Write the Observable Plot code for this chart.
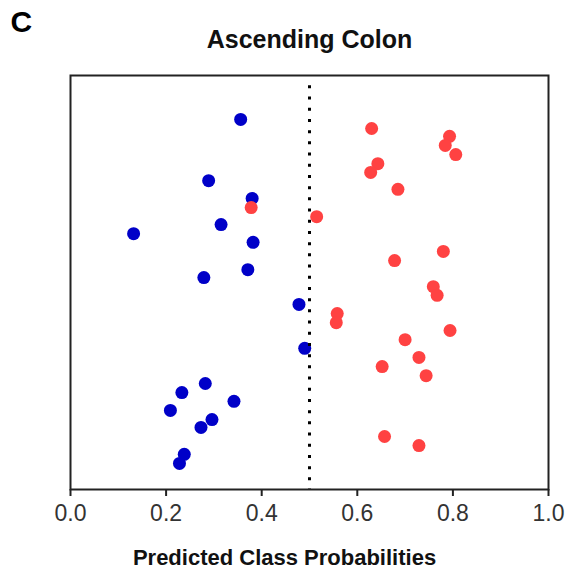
<!DOCTYPE html>
<html>
<head>
<meta charset="utf-8">
<script src="https://cdn.jsdelivr.net/npm/d3@7"></script>
<script src="https://cdn.jsdelivr.net/npm/@observablehq/plot@0.6"></script>
<style>
  html, body { margin: 0; padding: 0; background: #fff; }
  #chart { width: 568px; height: 573px; }
</style>
</head>
<body>
<div id="chart"></div>
<script>
// Predicted class probabilities (x) and vertical jitter position (0–100) per sample
const blueProb = [0.356, 0.289, 0.380, 0.315, 0.132, 0.382, 0.371, 0.279, 0.478, 0.490, 0.282, 0.233, 0.342, 0.209, 0.296, 0.273, 0.238, 0.228];
const blueRow  = [89.4, 74.6, 70.3, 64.0, 61.8, 59.7, 53.1, 51.2, 44.7, 34.1, 25.6, 23.4, 21.3, 19.1, 16.9, 15.0, 8.5, 6.3];
const redProb  = [0.378, 0.515, 0.630, 0.793, 0.784, 0.806, 0.643, 0.628, 0.685, 0.780, 0.678, 0.759, 0.767, 0.558, 0.556, 0.794, 0.700, 0.729, 0.652, 0.744, 0.657, 0.729];
const redRow   = [68.1, 65.9, 87.2, 85.3, 83.1, 80.9, 78.7, 76.6, 72.5, 57.5, 55.3, 49.0, 46.9, 42.5, 40.3, 38.4, 36.2, 31.9, 29.7, 27.5, 12.8, 10.6];
const xTicks = [0, 0.2, 0.4, 0.6, 0.8, 1.0];
const threshold = [0.5];
const panelLabel = "C";
const titleText = "Ascending Colon";
const xLabel = "Predicted Class Probabilities";

const blue = blueProb.map((p, i) => ({p, row: blueRow[i]}));
const red = redProb.map((p, i) => ({p, row: redRow[i]}));

const font = "'Liberation Sans', Arial, Helvetica, sans-serif";

const chart = Plot.plot({
  width: 568,
  height: 573,
  marginLeft: 70,
  marginRight: 20,
  marginTop: 75,
  marginBottom: 84,
  style: {fontFamily: font, fontSize: "23px", color: "#222", background: "#fff"},
  x: {domain: [0, 1]},
  y: {domain: [0, 100], axis: null},
  marks: [
    Plot.dot(blue, {x: "p", y: "row", r: 6.5, fill: "#0000c8", stroke: "none"}),
    Plot.dot(red, {x: "p", y: "row", r: 6.5, fill: "#ff4242", stroke: "none"}),
    Plot.ruleX(threshold, {stroke: "#000", strokeWidth: 3, strokeDasharray: "3,8.2", y1: 97.5, y2: 0}),
    Plot.frame({stroke: "#222", strokeWidth: 2}),
    Plot.axisX({ticks: xTicks, tickFormat: d3.format(".1f"), tickSize: 7, tickPadding: 8, strokeWidth: 2, fontSize: 23, label: null, fill: "#333"}),
    Plot.text([panelLabel], {frameAnchor: "top-left", dx: -60, dy: -65, text: d => d, textAnchor: "start", lineAnchor: "top", fontSize: 30, fontWeight: "bold", fill: "#000"}),
    Plot.text([titleText], {frameAnchor: "top", dy: -45, text: d => d, textAnchor: "middle", lineAnchor: "top", fontSize: 25, fontWeight: "bold", fill: "#111"}),
    Plot.text([xLabel], {frameAnchor: "bottom", dx: -25, dy: 60, text: d => d, textAnchor: "middle", lineAnchor: "top", fontSize: 22, fontWeight: "bold", fill: "#111"})
  ]
});
document.getElementById("chart").appendChild(chart);
</script>
</body>
</html>
